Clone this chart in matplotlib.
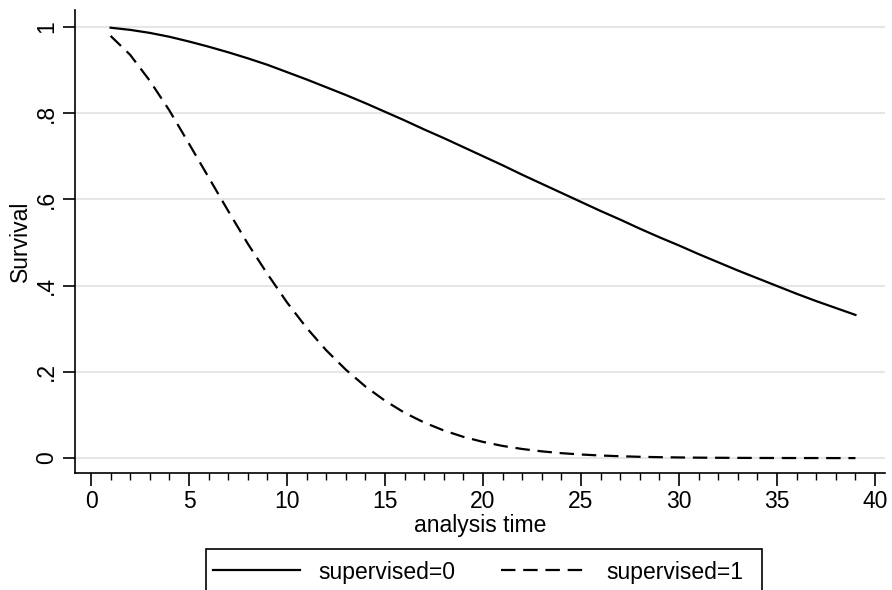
import numpy as np
import matplotlib.pyplot as plt
from matplotlib.patches import Rectangle
from matplotlib.ticker import MultipleLocator

plt.rcParams['font.family'] = ['Liberation Sans', 'DejaVu Sans']

# analysis time and survival estimates
time = list(range(1, 40))
surv_0 = [0.998, 0.993, 0.986, 0.977, 0.966, 0.954, 0.941, 0.927, 0.912, 0.895,
          0.878, 0.860, 0.842, 0.823, 0.803, 0.783, 0.762, 0.742, 0.721, 0.700,
          0.679, 0.657, 0.636, 0.615, 0.594, 0.573, 0.553, 0.532, 0.512, 0.493,
          0.473, 0.454, 0.435, 0.417, 0.399, 0.381, 0.364, 0.348, 0.332]
surv_1 = [0.979, 0.935, 0.875, 0.806, 0.729, 0.651, 0.573, 0.497, 0.427, 0.361,
          0.302, 0.250, 0.205, 0.166, 0.133, 0.105, 0.0824, 0.0640, 0.0492, 0.0375,
          0.0282, 0.0211, 0.0156, 0.0114, 0.0083, 0.0060, 0.0043, 0.0030, 0.0021, 0.0015,
          0.0010, 0.0007, 0.0005, 0.0003, 0.0002, 0.0001, 0.0001, 0.0, 0.0]
labels = ['supervised=0', 'supervised=1']
yticks = [0, 0.2, 0.4, 0.6, 0.8, 1]
yticklabels = ['0', '.2', '.4', '.6', '.8', '1']

fig = plt.figure(figsize=(8.92, 5.90), dpi=100)
ax = fig.add_axes([0.084, 0.198, 0.908, 0.785])

ax.plot(time, surv_0, color='black', lw=1.6, label=labels[0])
ax.plot(time, surv_1, color='black', lw=1.6, dashes=(6.5, 3.5), label=labels[1])

ax.set_xlim(-0.82, 40.5)
ax.set_ylim(-0.035, 1.039)
ax.set_xticks(range(0, 41, 5))
ax.xaxis.set_minor_locator(MultipleLocator(1))
ax.set_yticks(yticks)
ax.set_yticklabels(yticklabels, rotation=90, va='center')

ax.grid(axis='y', color='#e6e6e6', lw=1.5)
ax.set_axisbelow(True)
for s in ['top', 'right']:
    ax.spines[s].set_visible(False)
for s in ['left', 'bottom']:
    ax.spines[s].set_linewidth(1.2)

ax.tick_params(which='major', length=9, width=1.2, labelsize=16.5, pad=3)
ax.tick_params(which='minor', length=5, width=1.0)
ax.set_xlabel('analysis time', fontsize=16.5, labelpad=1)
ax.set_ylabel('Survival', fontsize=16.5, labelpad=2)

# legend text without frame, plus a Stata-style box (cut off at the bottom)
leg = fig.legend(loc='center', bbox_to_anchor=(0.536, 1 - 572 / 590), ncol=2,
                 fontsize=16.5, frameon=False,
                 handlelength=3.8, handletextpad=0.8, columnspacing=2.0,
                 borderpad=0, borderaxespad=0)
fig.patches.append(Rectangle((206 / 892, -0.05), 556 / 892, 0.05 + 41 / 590,
                             transform=fig.transFigure, fill=False,
                             edgecolor='black', lw=1.2))

fig.savefig('out.png', dpi=100)
